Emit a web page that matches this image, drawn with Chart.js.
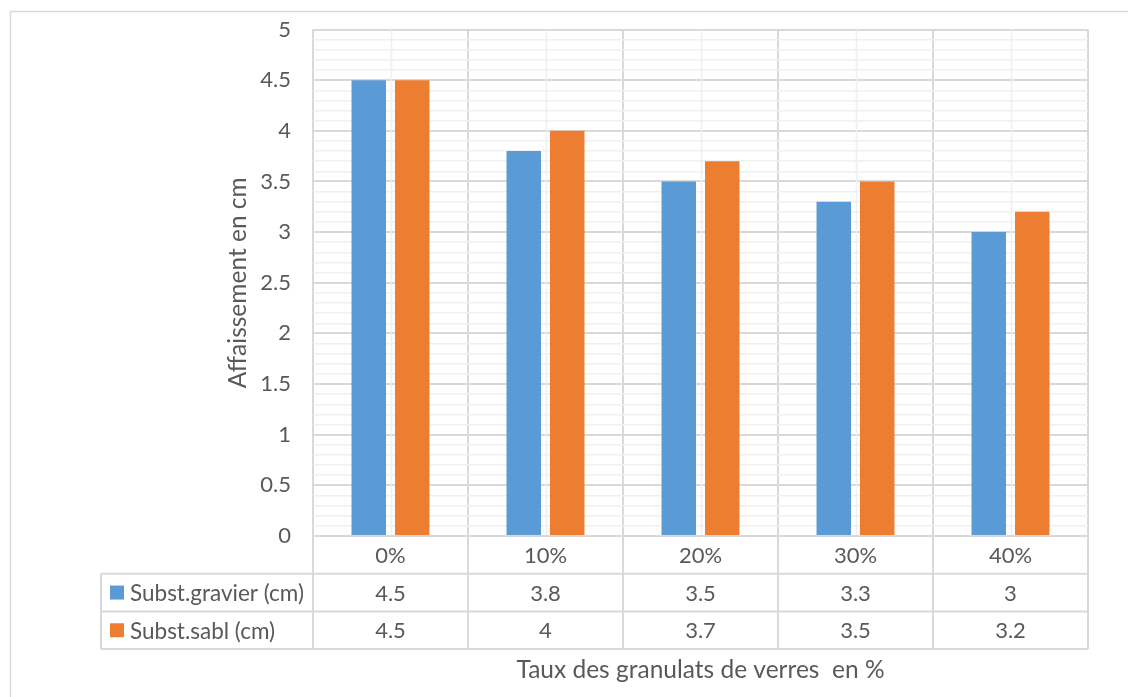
<!DOCTYPE html>
<html>
<head>
<meta charset="utf-8">
<script src="https://cdn.jsdelivr.net/npm/chart.js@4/dist/chart.umd.min.js"></script>
<style>
  html, body { margin: 0; padding: 0; background: #ffffff; }
  #wrap { width: 1128px; height: 697px; }
</style>
</head>
<body>
<div id="wrap"><canvas id="c" width="1128" height="697"></canvas></div>
<script>
// Categories and series
const categories = ['0%', '10%', '20%', '30%', '40%'];
const seriesNames = ['Subst.gravier (cm)', 'Subst.sabl (cm)'];
const gravier = [4.5, 3.8, 3.5, 3.3, 3];
const sable = [4.5, 4, 3.7, 3.5, 3.2];
const yTitle = 'Affaissement en cm';
const xTitle = 'Taux des granulats de verres  en %';

const BLUE = '#5B9BD5';
const ORANGE = '#ED7D31';
const TEXT = '#595959';
const MAJOR = '#D9D9D9';
const MINOR = '#F0F0F0';
const FONT = 'Lato, "Open Sans", sans-serif';

const isMajor = v => Math.abs(v * 2 - Math.round(v * 2)) < 1e-6;

// Frame, minor centre lines, axis titles and the data table under the plot
const decor = {
  id: 'decor',
  beforeDraw(chart) {
    const ctx = chart.ctx;
    ctx.save();
    ctx.fillStyle = '#ffffff';
    ctx.fillRect(0, 0, chart.width, chart.height);
    ctx.strokeStyle = MAJOR;
    ctx.lineWidth = 1.5;
    ctx.strokeRect(10.5, 11.5, chart.width + 20, chart.height + 20);
    ctx.restore();
  },
  beforeDatasetsDraw(chart) {
    const ctx = chart.ctx, x = chart.scales.x, a = chart.chartArea;
    ctx.save();
    ctx.strokeStyle = MINOR;
    ctx.lineWidth = 1.5;
    categories.forEach((c, i) => {
      const px = Math.round(x.getPixelForValue(i)) + 0.5;
      ctx.beginPath(); ctx.moveTo(px, a.top); ctx.lineTo(px, a.bottom); ctx.stroke();
    });
    ctx.restore();
  },
  afterDraw(chart) {
    const ctx = chart.ctx, x = chart.scales.x, a = chart.chartArea;
    const half = (x.getPixelForValue(1) - x.getPixelForValue(0)) / 2;
    const rowH = 37.7;
    const r0 = a.bottom, r1 = r0 + rowH, r2 = r1 + rowH, r3 = r2 + rowH;
    const tableLeft = 101;
    ctx.save();
    ctx.strokeStyle = MAJOR;
    ctx.lineWidth = 2;
    // horizontal rules
    [[a.left, r0], [tableLeft, r1], [tableLeft, r2], [tableLeft, r3]].forEach(([x0, y]) => {
      ctx.beginPath(); ctx.moveTo(x0, y); ctx.lineTo(a.right, y); ctx.stroke();
    });
    // vertical rules
    ctx.beginPath(); ctx.moveTo(tableLeft, r1); ctx.lineTo(tableLeft, r3); ctx.stroke();
    for (let i = 0; i <= categories.length; i++) {
      const px = x.getPixelForValue(i) - half;
      ctx.beginPath(); ctx.moveTo(px, r0); ctx.lineTo(px, r3); ctx.stroke();
    }
    // cell text
    ctx.fillStyle = TEXT;
    ctx.font = '22px ' + FONT;
    ctx.textAlign = 'center';
    ctx.textBaseline = 'middle';
    const rows = [gravier, sable];
    categories.forEach((c, i) => {
      const cx = x.getPixelForValue(i);
      ctx.fillText(c, cx, (r0 + r1) / 2 + 1);
      rows.forEach((vals, k) => {
        const y = k === 0 ? (r1 + r2) / 2 + 1 : (r2 + r3) / 2 + 1;
        ctx.fillText(String(vals[i]), cx, y);
      });
    });
    // legend keys + series names
    const colors = [BLUE, ORANGE];
    ctx.font = '22.5px ' + FONT;
    seriesNames.forEach((name, k) => {
      const yc = k === 0 ? (r1 + r2) / 2 : (r2 + r3) / 2;
      ctx.fillStyle = colors[k];
      ctx.fillRect(110, yc - 7, 14, 14);
      ctx.fillStyle = TEXT;
      ctx.textAlign = 'left';
      ctx.fillText(name, 130, yc + 1);
    });
    // axis titles
    ctx.font = '24.5px ' + FONT;
    ctx.textAlign = 'center';
    ctx.fillText(xTitle, (a.left + a.right) / 2, 670);
    ctx.translate(238, (a.top + a.bottom) / 2);
    ctx.rotate(-Math.PI / 2);
    ctx.fillText(yTitle, 0, 0);
    ctx.restore();
  }
};

new Chart(document.getElementById('c'), {
  type: 'bar',
  data: {
    labels: categories,
    datasets: [
      { label: seriesNames[0], data: gravier, backgroundColor: BLUE,
        categoryPercentage: 0.561, barPercentage: 0.793 },
      { label: seriesNames[1], data: sable, backgroundColor: ORANGE,
        categoryPercentage: 0.561, barPercentage: 0.793 }
    ]
  },
  options: {
    responsive: false,
    animation: false,
    layout: { padding: { left: 0, right: 40, top: 29.5, bottom: 161 } },
    plugins: { legend: { display: false }, tooltip: { enabled: false } },
    scales: {
      x: {
        ticks: { display: false },
        grid: { color: MAJOR, lineWidth: 2, drawTicks: false, offset: true },
        border: { display: false },
        afterFit(s) { s.height = 0; }
      },
      y: {
        min: 0, max: 5,
        ticks: {
          stepSize: 0.1, autoSkip: false, padding: 22, color: TEXT,
          font: { family: FONT, size: 22 },
          callback: v => isMajor(v) ? String(Math.round(v * 10) / 10) : ''
        },
        grid: {
          drawTicks: false,
          color: c => isMajor(c.tick.value) ? MAJOR : MINOR,
          lineWidth: c => isMajor(c.tick.value) ? 2 : 1.5
        },
        border: { display: false },
        afterFit(s) { s.width = 313; s.paddingTop = 0; s.paddingBottom = 0; }
      }
    }
  },
  plugins: [decor]
});
</script>
</body>
</html>
